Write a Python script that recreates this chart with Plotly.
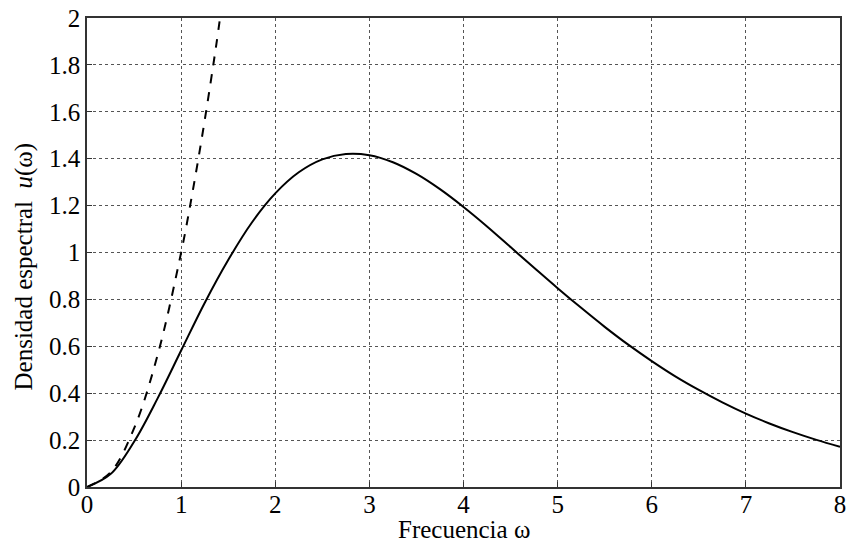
import plotly.graph_objects as go

# Planck curve
omega = [0, 0.25, 0.5, 0.75, 1.0, 1.25, 1.5, 1.75, 2.0, 2.25, 2.5, 2.75, 3.0, 3.25, 3.5, 3.75, 4.0,
         4.25, 4.5, 4.75, 5.0, 5.25, 5.5, 5.75, 6.0, 6.25, 6.5, 6.75, 7.0, 7.25, 7.5, 7.75, 8.0]
u_planck = [0, 0.055, 0.193, 0.378, 0.582, 0.785, 0.968, 1.127, 1.252, 1.342, 1.397, 1.420, 1.415, 1.385, 1.335, 1.270, 1.194,
            1.111, 1.023, 0.935, 0.848, 0.764, 0.683, 0.607, 0.537, 0.472, 0.414, 0.361, 0.313, 0.271, 0.234, 0.201, 0.172]

# Rayleigh-Jeans curve
omega_rj = [0, 0.25, 0.5, 0.75, 1.0, 1.125, 1.25, 1.375, 1.42]
u_rj = [0, 0.0625, 0.25, 0.5625, 1.0, 1.266, 1.5625, 1.89, 2.02]

x_ticks = [0, 1, 2, 3, 4, 5, 6, 7, 8]
y_ticks = [0, 0.2, 0.4, 0.6, 0.8, 1, 1.2, 1.4, 1.6, 1.8, 2]
y_labels = ["0", "0.2", "0.4", "0.6", "0.8", "1", "1.2", "1.4", "1.6", "1.8", "2"]
x_title = "Frecuencia ω"
y_title = "Densidad espectral  <i>u</i>(ω)"

fig = go.Figure()
fig.add_trace(go.Scatter(x=omega_rj, y=u_rj, mode="lines",
                         line=dict(color="black", width=2, dash="dash", shape="spline"), hoverinfo="skip"))
fig.add_trace(go.Scatter(x=omega, y=u_planck, mode="lines",
                         line=dict(color="black", width=2, shape="spline"), hoverinfo="skip"))

font = dict(family="Liberation Serif, Times New Roman, serif", size=25, color="black")
axis_common = dict(showline=True, linecolor="#333", linewidth=1.5, mirror=True,
                   ticks="inside", ticklen=5, tickcolor="#333",
                   showgrid=True, gridcolor="#555", griddash="dot", gridwidth=1,
                   zeroline=False, tickfont=font)

fig.update_layout(
    width=851, height=546,
    margin=dict(l=87, r=5, t=18, b=59),
    plot_bgcolor="white", paper_bgcolor="white",
    showlegend=False,
    font=font,
    xaxis=dict(range=[0, 8], tickvals=x_ticks, ticklabelstandoff=-6, **axis_common),
    yaxis=dict(range=[0, 2], tickvals=y_ticks, ticktext=y_labels, **axis_common),
    annotations=[
        dict(text=x_title, xref="paper", yref="paper", x=0.5, y=0, yshift=-42,
             xanchor="center", yanchor="middle", showarrow=False, font=font),
        dict(text=y_title, xref="paper", yref="paper", x=0, y=0.5, xshift=-64, yshift=-14,
             xanchor="center", yanchor="middle", textangle=-90, showarrow=False, font=font),
    ],
)
fig.write_html("out.html")
